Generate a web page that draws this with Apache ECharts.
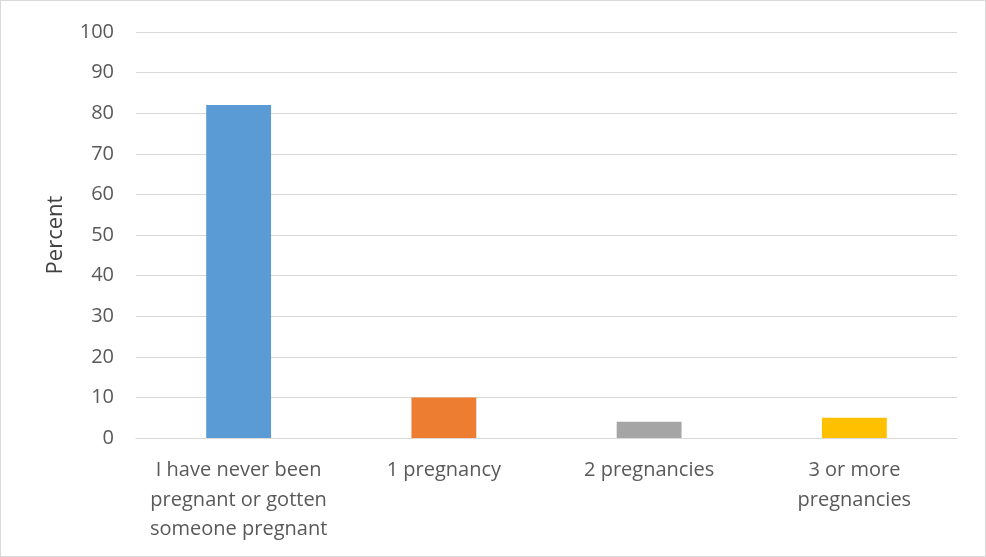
<!DOCTYPE html>
<html><head><meta charset="utf-8">
<script src="https://cdn.jsdelivr.net/npm/echarts@6/dist/echarts.min.js"></script>
<style>html,body{margin:0;padding:0;background:#fff}#c{width:986px;height:557px;box-sizing:border-box;border:1px solid #d9d9d9}</style>
</head><body><div id="c"></div>
<script>
const categories = ["I have never been\npregnant or gotten\nsomeone pregnant", "1 pregnancy", "2 pregnancies", "3 or more\npregnancies"];
const values = [82, 10, 4, 5];
const barColors = ["#5B9BD5", "#ED7D31", "#A5A5A5", "#FFC000"];
const yTicks = [0, 10, 20, 30, 40, 50, 60, 70, 80, 90, 100];

const chart = echarts.init(document.getElementById('c'));
chart.setOption({
  animation: false,
  grid: {left: 135, right: 28, top: 31, bottom: 118, containLabel: false},
  xAxis: {
    type: 'category', data: categories,
    axisLine: {lineStyle: {color: '#d9d9d9', width: 1}},
    axisTick: {show: false},
    axisLabel: {color: '#595959', fontSize: 20, fontFamily: 'Open Sans', lineHeight: 29.5, margin: 18, interval: 0}
  },
  yAxis: {
    type: 'value', min: yTicks[0], max: yTicks[yTicks.length-1], interval: 10,
    name: 'Percent', nameLocation: 'middle', nameRotate: 90, nameGap: 69,
    nameTextStyle: {color: '#404040', fontSize: 22, fontFamily: 'Open Sans'},
    axisLine: {show: false}, axisTick: {show: false},
    axisLabel: {color: '#595959', fontSize: 20, fontFamily: 'Open Sans', margin: 22},
    splitLine: {lineStyle: {color: '#d9d9d9', width: 1}}
  },
  series: [{
    type: 'bar', barWidth: '31.6%',
    data: values.map((v, i) => ({value: v, itemStyle: {color: barColors[i]}}))
  }]
});
</script></body></html>
